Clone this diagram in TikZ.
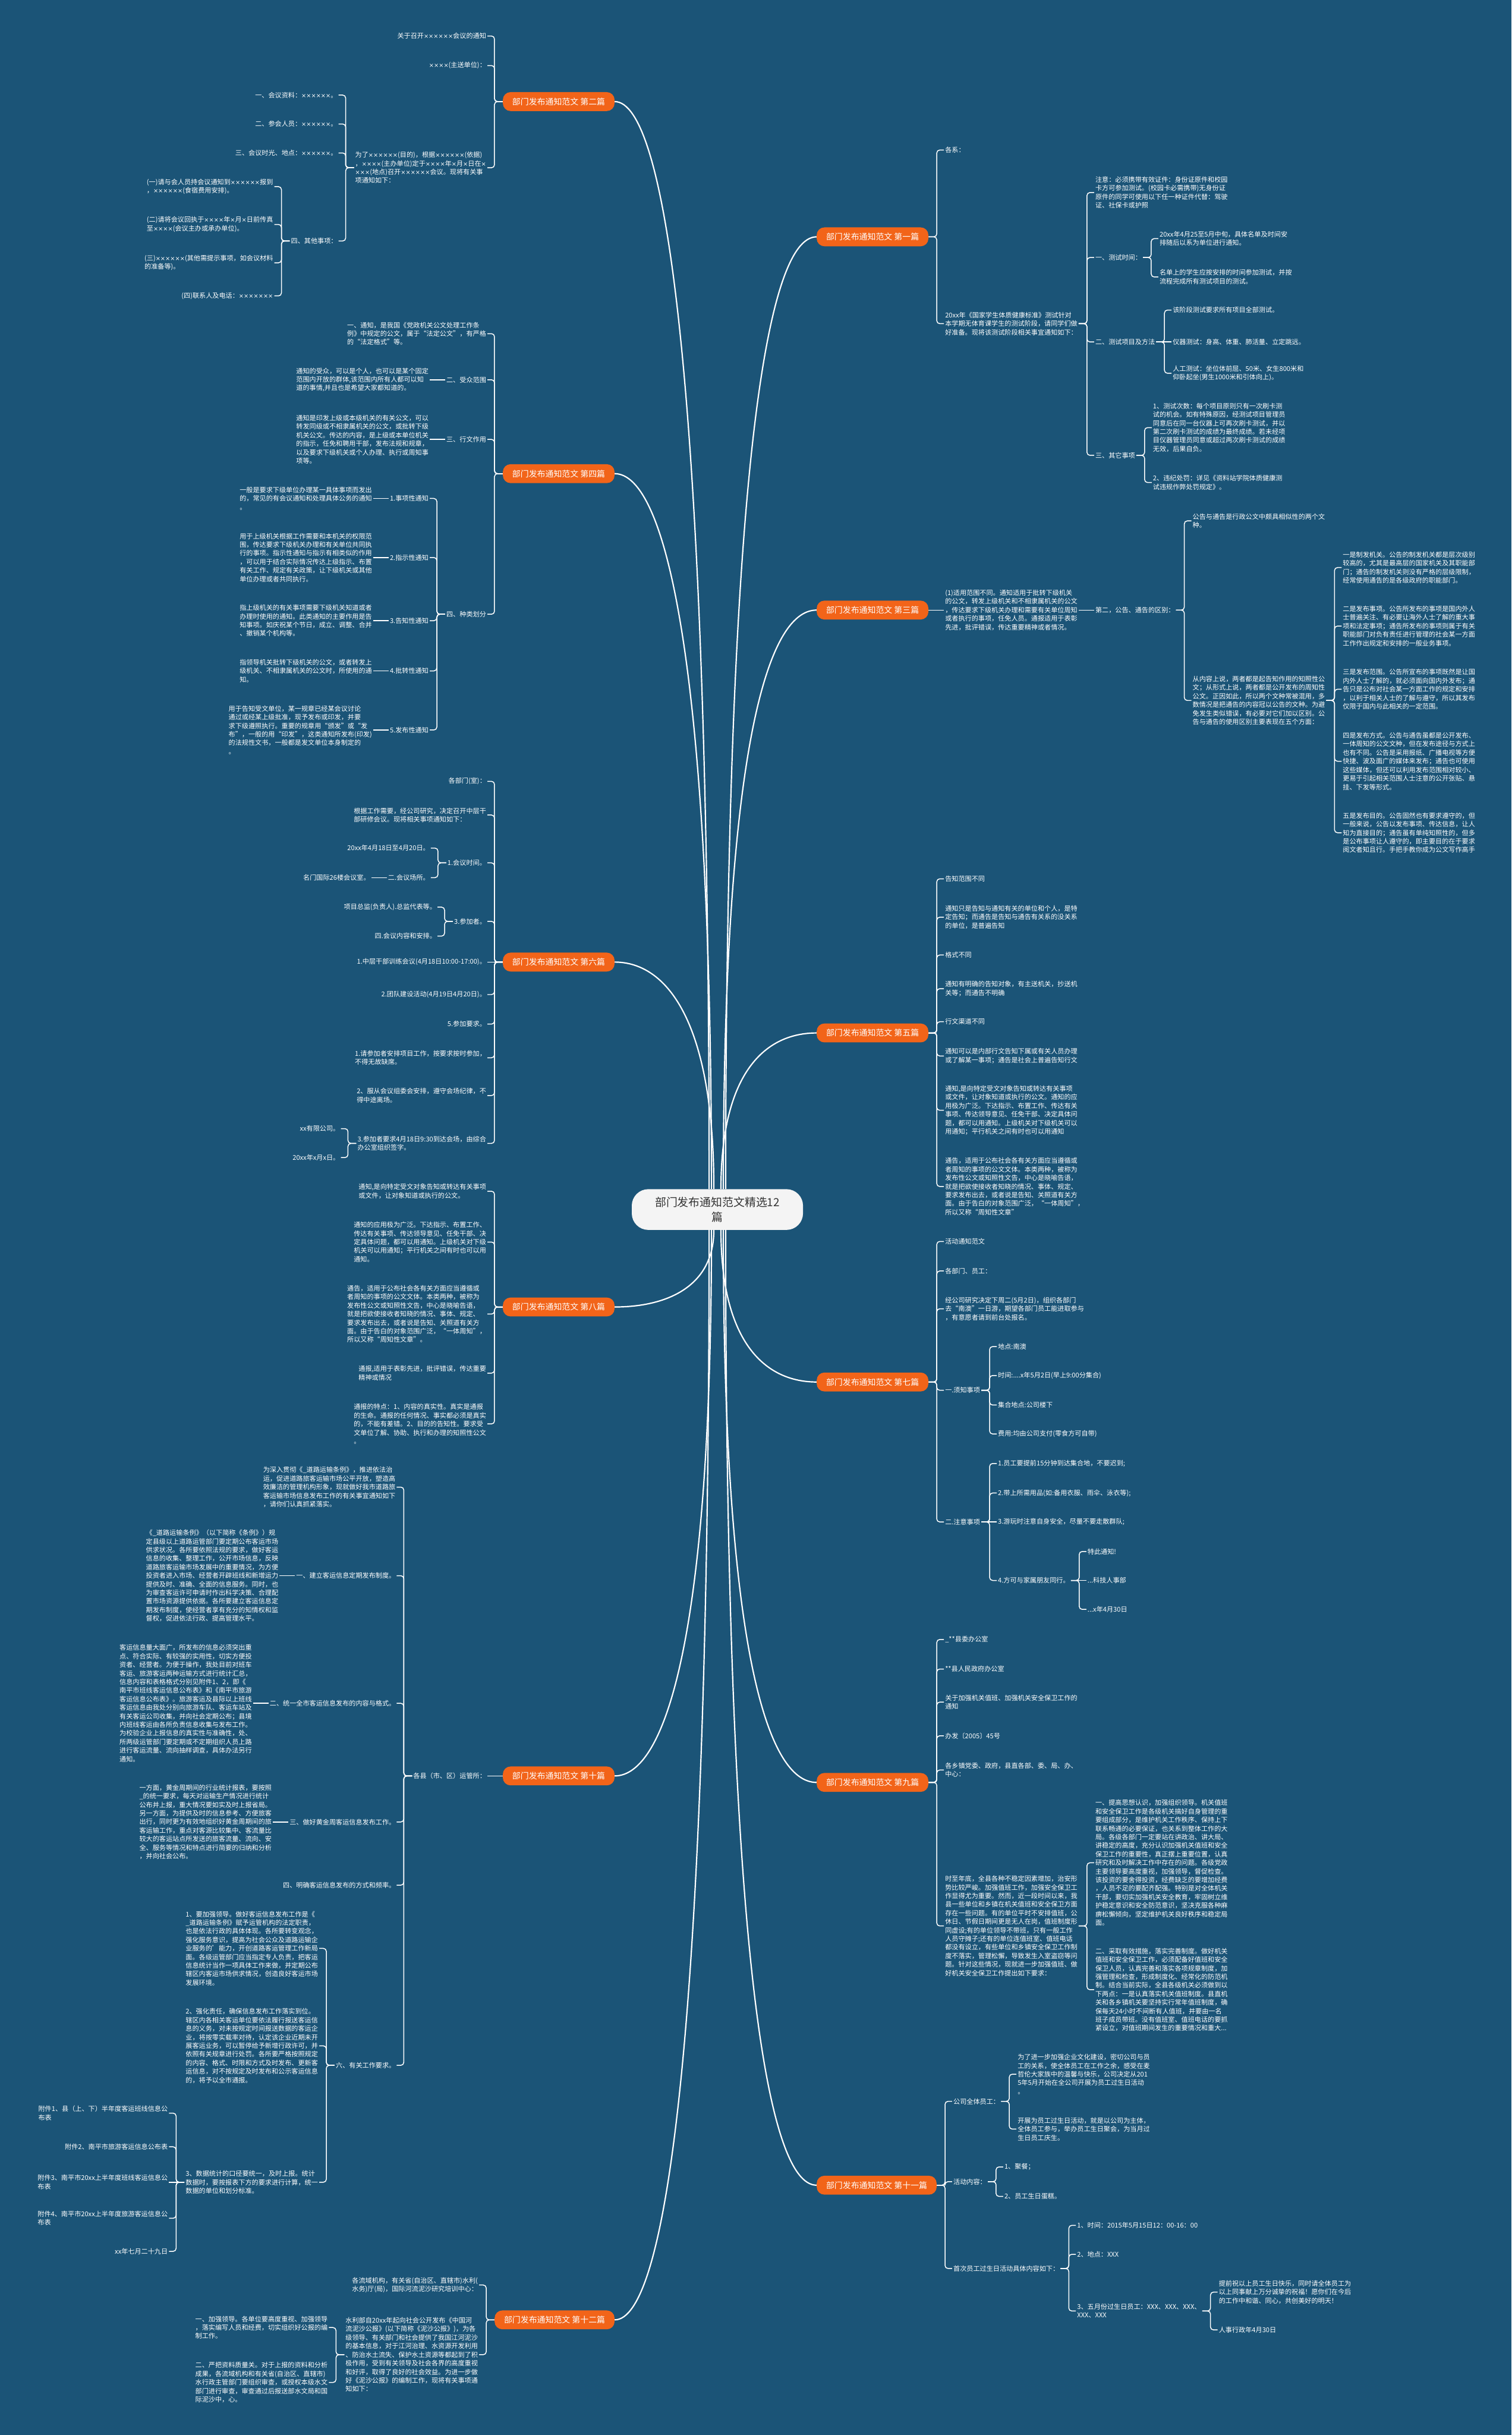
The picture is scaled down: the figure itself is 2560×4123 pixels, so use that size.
\documentclass[tikz,border=0pt]{standalone}
\usepackage{fontspec}
\usepackage{newunicodechar}
\setmainfont{Noto Sans CJK SC}
\newfontfamily\timesfont[Scale=0.88]{DejaVu Sans}
\newunicodechar{×}{{\timesfont\symbol{"00D7}}}
\definecolor{bgblue}{RGB}{27,84,119}
\definecolor{orng}{RGB}{242,100,25}
\definecolor{hubgray}{RGB}{244,244,244}
\begin{document}
\begin{tikzpicture}[x=1pt,y=-1pt,
  txt/.style={text=white,inner sep=2pt,align=left,font=\fontsize{11.2}{14.5}\selectfont},
  lk/.style={white,line width=1.5pt,rounded corners=5pt},
  br/.style={white,line width=2.2pt},
  topic/.style={fill=orng,text=white,rounded corners=13pt,minimum height=32pt,inner xsep=16pt,font=\fontsize{14}{16}\selectfont},
  hub/.style={fill=hubgray,text=black!80,rounded corners=28pt,minimum width=290pt,minimum height=69pt,align=center,font=\fontsize{19}{24.5}\selectfont}]
\def\kidL#1#2#3#4{\path (#1.west) ++(-26,0) coordinate (t);
  \node[txt,anchor=east] (#2) at (t |- 0,#3) {#4};
  \draw[lk] (#1.west) -- ++(-14,0) |- (#2.east);}
\def\kidR#1#2#3#4{\path (#1.east) ++(26,0) coordinate (t);
  \node[txt,anchor=west] (#2) at (t |- 0,#3) {#4};
  \draw[lk] (#1.east) -- ++(14,0) |- (#2.west);}
\def\solL#1#2#3{\node[txt,anchor=east] (#2) at ([xshift=-26]#1.west) {#3};
  \draw[lk] (#1.west) -- (#2.east);}
\def\solR#1#2#3{\node[txt,anchor=west] (#2) at ([xshift=26]#1.east) {#3};
  \draw[lk] (#1.east) -- (#2.west);}
\useasboundingbox (0,0) rectangle (2560,4123);
\fill[bgblue] (0,0) rectangle (2560,4123);

\node[hub] (cen) at (1215,2048) {部门发布通知范文精选12\\篇};
\node[topic,anchor=east] (b2) at (1041,172) {部门发布通知范文 第二篇};
\node[topic,anchor=east] (b4) at (1041,802) {部门发布通知范文 第四篇};
\node[topic,anchor=east] (b6) at (1041,1629) {部门发布通知范文 第六篇};
\node[topic,anchor=east] (b8) at (1041,2213) {部门发布通知范文 第八篇};
\node[topic,anchor=east] (b10) at (1041,3007) {部门发布通知范文 第十篇};
\node[topic,anchor=east] (b12) at (1041,3928) {部门发布通知范文 第十二篇};
\node[topic,anchor=west] (b1) at (1383,401) {部门发布通知范文 第一篇};
\node[topic,anchor=west] (b3) at (1383,1033) {部门发布通知范文 第三篇};
\node[topic,anchor=west] (b5) at (1383,1749) {部门发布通知范文 第五篇};
\node[topic,anchor=west] (b7) at (1383,2340) {部门发布通知范文 第七篇};
\node[topic,anchor=west] (b9) at (1383,3018) {部门发布通知范文 第九篇};
\node[topic,anchor=west] (b11) at (1383,3700) {部门发布通知范文 第十一篇};

\draw[br] (b2.east) .. controls +(85,0) and +(0,-1380) .. ([xshift=-14]cen.north);
\draw[br] (b4.east) .. controls +(85,0) and +(0,-900) .. ([xshift=-10]cen.north);
\draw[br] (b6.east) .. controls +(85,0) and +(0,-290) .. ([xshift=-6]cen.north);
\draw[br] (b1.west) .. controls +(-85,0) and +(0,-1210) .. ([xshift=14]cen.north);
\draw[br] (b3.west) .. controls +(-85,0) and +(0,-735) .. ([xshift=10]cen.north);
\draw[br] (b5.west) .. controls +(-85,0) and +(0,-200) .. ([xshift=6]cen.north);
\draw[br] (b8.east) .. controls +(85,0) and +(0,98) .. ([xshift=-6]cen.south);
\draw[br] (b10.east) .. controls +(85,0) and +(0,693) .. ([xshift=-10]cen.south);
\draw[br] (b12.east) .. controls +(85,0) and +(0,1384) .. ([xshift=-14]cen.south);
\draw[br] (b7.west) .. controls +(-85,0) and +(0,193) .. ([xshift=6]cen.south);
\draw[br] (b9.west) .. controls +(-85,0) and +(0,701) .. ([xshift=10]cen.south);
\draw[br] (b11.west) .. controls +(-85,0) and +(0,1213) .. ([xshift=14]cen.south);

\kidL{b2}{b2a}{61}{关于召开××××××会议的通知}
\kidL{b2}{b2b}{111}{××××(主送单位)：}
\kidL{b2}{b2c}{284}{为了××××××(目的)，根据××××××(依据)\\，××××(主办单位)定于××××年×月×日在×\\×××(地点)召开××××××会议。现将有关事\\项通知如下：}
\kidL{b2c}{b2c1}{161}{一、会议资料：××××××。}
\kidL{b2c}{b2c2}{210}{二、参会人员：××××××。}
\kidL{b2c}{b2c3}{259}{三、会议时光、地点：××××××。}
\kidL{b2c}{b2c4}{408}{四、其他事项：}
\kidL{b2c4}{b2d1}{316}{(一)请与会人员持会议通知到××××××报到\\，××××××(食宿费用安排)。}
\kidL{b2c4}{b2d2}{380}{(二)请将会议回执于××××年×月×日前传真\\至××××(会议主办或承办单位)。}
\kidL{b2c4}{b2d3}{445}{(三)××××××(其他需提示事项，如会议材料\\的准备等)。}
\kidL{b2c4}{b2d4}{501}{(四)联系人及电话：×××××××}

\kidL{b4}{b4a}{565}{一、通知，是我国《党政机关公文处理工作条\\例》中规定的公文，属于“法定公文”，有严格\\的“法定格式”等。}
\kidL{b4}{b4b}{643}{二、受众范围}
\solL{b4b}{b4b1}{通知的受众，可以是个人，也可以是某个固定\\范围内开放的群体,该范围内所有人都可以知\\道的事情,并且也是希望大家都知道的。}
\kidL{b4}{b4c}{744}{三、行文作用}
\solL{b4c}{b4c1}{通知是印发上级或本级机关的有关公文，可以\\转发同级或不相隶属机关的公文，或批转下级\\机关公文。传达的内容，是上级或本单位机关\\的指示，任免和聘用干部，发布法规和规章，\\以及要求下级机关或个人办理、执行或周知事\\项等。}
\kidL{b4}{b4d}{1040}{四、种类划分}
\kidL{b4d}{b4d1}{844}{1.事项性通知}
\solL{b4d1}{b4e1}{一般是要求下级单位办理某一具体事项而发出\\的，常见的有会议通知和处理具体公务的通知\\。}
\kidL{b4d}{b4d2}{944}{2.指示性通知}
\solL{b4d2}{b4e2}{用于上级机关根据工作需要和本机关的权限范\\围，传达要求下级机关办理和有关单位共同执\\行的事项。指示性通知与指示有相类似的作用\\，可以用于结合实际情况传达上级指示、布置\\有关工作、规定有关政策，让下级机关或其他\\单位办理或者共同执行。}
\kidL{b4d}{b4d3}{1051}{3.告知性通知}
\solL{b4d3}{b4e3}{指上级机关的有关事项需要下级机关知道或者\\办理时使用的通知。此类通知的主要作用是告\\知事项。如庆祝某个节日，成立、调整、合并\\、撤销某个机构等。}
\kidL{b4d}{b4d4}{1136}{4.批转性通知}
\solL{b4d4}{b4e4}{指领导机关批转下级机关的公文，或者转发上\\级机关、不相隶属机关的公文时，所使用的通\\知。}
\kidL{b4d}{b4d5}{1236}{5.发布性通知}
\solL{b4d5}{b4e5}{用于告知受文单位，某一规章已经某会议讨论\\通过或经某上级批准，现予发布或印发，并要\\求下级遵照执行。重要的规章用“颁发”或“发\\布”，一般的用“印发”，这类通知所发布(印发)\\的法规性文书，一般都是发文单位本身制定的\\。}

\kidL{b6}{b6a}{1323}{各部门(室)：}
\kidL{b6}{b6b}{1380}{根据工作需要，经公司研究，决定召开中层干\\部研修会议。现将相关事项通知如下：}
\kidL{b6}{b6c}{1461}{1.会议时间。}
\kidL{b6c}{b6c1}{1436}{20xx年4月18日至4月20日。}
\kidL{b6c}{b6c2}{1486}{二.会议场所。}
\solL{b6c2}{b6c3}{名门国际26楼会议室。}
\kidL{b6}{b6d}{1560}{3.参加者。}
\kidL{b6d}{b6d1}{1536}{项目总监(负责人).总监代表等。}
\kidL{b6d}{b6d2}{1585}{四.会议内容和安排。}
\solL{b6}{b6e}{1.中层干部训练会议(4月18日10:00-17:00)。}
\kidL{b6}{b6f}{1684}{2.团队建设活动(4月19日4月20日)。}
\kidL{b6}{b6g}{1734}{5.参加要求。}
\kidL{b6}{b6h}{1791}{1.请参加者安排项目工作，按要求按时参加，\\不得无故缺席。}
\kidL{b6}{b6i}{1855}{2、服从会议组委会安排，遵守会场纪律，不\\得中途离场。}
\kidL{b6}{b6j}{1936}{3.参加者要求4月18日9:30到达会场，由综合\\办公室组织签字。}
\kidL{b6j}{b6j1}{1911}{xx有限公司。}
\kidL{b6j}{b6j2}{1960}{20xx年x月x日。}

\kidL{b8}{b8a}{2017}{通知,是向特定受文对象告知或转达有关事项\\或文件，让对象知道或执行的公文。}
\kidL{b8}{b8b}{2103}{通知的应用极为广泛。下达指示、布置工作、\\传达有关事项、传达领导意见、任免干部、决\\定具体问题，都可以用通知。上级机关对下级\\机关可以用通知；平行机关之间有时也可以用\\通知。}
\kidL{b8}{b8c}{2225}{通告，适用于公布社会各有关方面应当遵循或\\者周知的事项的公文文体。本类两种，被称为\\发布性公文或知照性文告，中心是晓喻告语，\\就是把欲使接收者知晓的情况、事体、规定、\\要求发布出去，或者说是告知、关照道有关方\\面。由于告白的对象范围广泛，“一体周知”，\\所以又称“周知性文章”。}
\kidL{b8}{b8d}{2325}{通报,适用于表彰先进，批评错误，传达重要\\精神或情况}
\kidL{b8}{b8e}{2411}{通报的特点：1、内容的真实性。真实是通报\\的生命。通报的任何情况、事实都必须是真实\\的，不能有差错。2、目的的告知性。要求受\\文单位了解、协助、执行和办理的知照性公文\\。}

\solL{b10}{b10a}{各县（市、区）运管所：}
\kidL{b10a}{b10b}{2518}{为深入贯彻《\_道路运输条例》，推进依法治\\运，促进道路旅客运输市场公平开放，塑造高\\效廉洁的管理机构形象，现就做好我市道路旅\\客运输市场信息发布工作的有关事宜通知如下\\，请你们认真抓紧落实。}
\kidL{b10a}{b10c}{2668}{一、建立客运信息定期发布制度。}
\solL{b10c}{b10c1}{《\_道路运输条例》（以下简称《条例》）规\\定县级以上道路运管部门要定期公布客运市场\\供求状况。各所要依照法规的要求，做好客运\\信息的收集、整理工作，公开市场信息，反映\\道路旅客运输市场发展中的重要情况，为方便\\投资者进入市场、经营者开辟班线和新增运力\\提供及时、准确、全面的信息服务。同时，也\\为审查客运许可申请时作出科学决策、合理配\\置市场资源提供依据。各所要建立客运信息定\\期发布制度，使经营者享有充分的知情权和监\\督权，促进依法行政、提高管理水平。}
\kidL{b10a}{b10d}{2884}{二、统一全市客运信息发布的内容与格式。}
\solL{b10d}{b10d1}{客运信息量大面广，所发布的信息必须突出重\\点、符合实际、有较强的实用性，切实方便投\\资者、经营者。为便于操作，我处目前对班车\\客运、旅游客运两种运输方式进行统计汇总，\\信息内容和表格格式分别见附件1、2，即《\\南平市班线客运信息公布表》和《南平市旅游\\客运信息公布表》。旅游客运及县际以上班线\\客运信息由我处分别向旅游车队、客运车站及\\有关客运公司收集，并向社会定期公布；县境\\内班线客运由各所负责信息收集与发布工作。\\为校验企业上报信息的真实性与准确性，处、\\所两级运管部门要定期或不定期组织人员上路\\进行客运流量、流向抽样调查，具体办法另行\\通知。}
\kidL{b10a}{b10e}{3085}{三、做好黄金周客运信息发布工作。}
\solL{b10e}{b10e1}{一方面，黄金周期间的行业统计报表，要按照\\\_的统一要求，每天对运输生产情况进行统计\\公布并上报，重大情况要如实及时上报省局。\\另一方面，为提供及时的信息参考、方便旅客\\出行，同时更为有效地组织好黄金周期间的旅\\客运输工作，重点对客源比较集中、客流量比\\较大的客运站点所发送的旅客流量、流向、安\\全、服务等情况和特点进行简要的归纳和分析\\，并向社会公布。}
\kidL{b10a}{b10f}{3192}{四、明确客运信息发布的方式和频率。}
\kidL{b10a}{b10g}{3497}{六、有关工作要求。}
\kidL{b10g}{b10g1}{3299}{1、要加强领导。做好客运信息发布工作是《\\\_道路运输条例》赋予运管机构的法定职责，\\也是依法行政的具体体现。各所要转变观念，\\强化服务意识，提高为社会公众及道路运输企\\业服务的'能力，开创道路客运管理工作新局\\面。各级运管部门应当指定专人负责，把客运\\信息统计当作一项具体工作来做，并定期公布\\辖区内客运市场供求情况，创造良好客运市场\\发展环境。}
\kidL{b10g}{b10g2}{3464}{2、强化责任，确保信息发布工作落实到位。\\辖区内各相关客运单位要依法履行报送客运信\\息的义务，对未按规定时间报送数据的客运企\\业，将按零实载率对待，认定该企业近期未开\\展客运业务，可以暂停给予新增行政许可，并\\依照有关规章进行处罚。各所要严格按照规定\\的内容、格式、时限和方式及时发布、更新客\\运信息，对不按规定及时发布和公示客运信息\\的，将予以全市通报。}
\kidL{b10g}{b10g3}{3695}{3、数据统计的口径要统一，及时上报。统计\\数据时，要按报表下方的要求进行计算，统一\\数据的单位和划分标准。}
\kidL{b10g3}{b10h1}{3578}{附件1、县（上、下）半年度客运班线信息公\\布表}
\kidL{b10g3}{b10h2}{3635}{附件2、南平市旅游客运信息公布表}
\solL{b10g3}{b10h3}{附件3、南平市20xx上半年度班线客运信息公\\布表}
\kidL{b10g3}{b10h4}{3756}{附件4、南平市20xx上半年度旅游客运信息公\\布表}
\kidL{b10g3}{b10h5}{3812}{xx年七月二十九日}

\kidL{b12}{b12a}{3869}{各流域机构，有关省(自治区、直辖市)水利(\\水务)厅(局)，国际河流泥沙研究培训中心：}
\kidL{b12}{b12b}{3987}{水利部自20xx年起向社会公开发布《中国河\\流泥沙公报》(以下简称《泥沙公报》)，为各\\级领导、有关部门和社会提供了我国江河泥沙\\的基本信息，对于江河治理、水资源开发利用\\、防治水土流失、保护水土资源等都起到了积\\极作用，受到有关领导及社会各界的高度重视\\和好评，取得了良好的社会效益。为进一步做\\好《泥沙公报》的编制工作，现将有关事项通\\知如下：}
\kidL{b12b}{b12c}{3941}{一、加强领导。各单位要高度重视、加强领导\\，落实编写人员和经费，切实组织好公报的编\\制工作。}
\kidL{b12b}{b12d}{4034}{二、严把资料质量关。对于上报的资料和分析\\成果，各流域机构和有关省(自治区、直辖市)\\水行政主管部门要组织审查，或授权本级水文\\部门进行审查，审查通过后报送部水文局和国\\际泥沙中，心。}

\kidR{b1}{b1a}{254}{各系：}
\kidR{b1}{b1b}{548}{20xx年《国家学生体质健康标准》测试针对\\本学期无体育课学生的测试阶段，请同学们做\\好准备。现将该测试阶段相关事宜通知如下：}
\kidR{b1b}{b1c}{326}{注意：必须携带有效证件：身份证原件和校园\\卡方可参加测试。(校园卡必需携带)无身份证\\原件的同学可使用以下任一种证件代替：驾驶\\证、社保卡或护照}
\kidR{b1b}{b1d}{436}{一、测试时间：}
\kidR{b1d}{b1d1}{404}{20xx年4月25至5月中旬，具体名单及时间安\\排随后以系为单位进行通知。}
\kidR{b1d}{b1d2}{469}{名单上的学生应按安排的时间参加测试，并按\\流程完成所有测试项目的测试。}
\kidR{b1b}{b1e}{579}{二、测试项目及方法}
\kidR{b1e}{b1e1}{525}{该阶段测试要求所有项目全部测试。}
\solR{b1e}{b1e2}{仪器测试：身高、体重、肺活量、立定跳远。}
\kidR{b1e}{b1e3}{632}{人工测试：坐位体前屈、50米、女生800米和\\仰卧起坐(男生1000米和引体向上)。}
\kidR{b1b}{b1f}{771}{三、其它事项}
\kidR{b1f}{b1f1}{724}{1、测试次数：每个项目原则只有一次刷卡测\\试的机会。如有特殊原因，经测试项目管理员\\同意后在同一台仪器上可再次刷卡测试，并以\\第二次刷卡测试的成绩为最终成绩。若未经项\\目仪器管理员同意或超过两次刷卡测试的成绩\\无效，后果自负。}
\kidR{b1f}{b1f2}{817}{2、违纪处罚：详见《资料站学院体质健康测\\试违规作弊处罚规定》。}

\solR{b3}{b3a}{(1)适用范围不同。通知适用于批转下级机关\\的公文，转发上级机关和不相隶属机关的公文\\，传达要求下级机关办理和需要有关单位周知\\或者执行的事项，任免人员。通报适用于表彰\\先进，批评错误，传达重要精神或者情况。}
\solR{b3a}{b3b}{第二，公告、通告的区别：}
\kidR{b3b}{b3c}{882}{公告与通告是行政公文中颇具相似性的两个文\\种。}
\kidR{b3b}{b3d}{1186}{从内容上说，两者都是起告知作用的知照性公\\文；从形式上说，两者都是公开发布的周知性\\公文。正因如此，所以两个文种常被混用，多\\数情况是把通告的内容冠以公告的文种。为避\\免发生类似错误，有必要对它们加以区别。公\\告与通告的使用区别主要表现在五个方面：}
\kidR{b3d}{b3d1}{961}{一是制发机关。公告的制发机关都是层次级别\\较高的，尤其是最高层的国家机关及其职能部\\门；通告的制发机关则没有严格的层级限制，\\经常使用通告的是各级政府的职能部门。}
\kidR{b3d}{b3d2}{1060}{二是发布事项。公告所发布的事项是国内外人\\士普遍关注、有必要让海外人士了解的重大事\\项和法定事项；通告所发布的事项则属于有关\\职能部门对负有责任进行管理的社会某一方面\\工作作出规定和安排的一般业务事项。}
\kidR{b3d}{b3d3}{1167}{三是发布范围。公告所宣布的事项既然是让国\\内外人士了解的，就必须面向国内外发布；通\\告只是公布对社会某一方面工作的规定和安排\\，以利于相关人士的了解与遵守，所以其发布\\仅限于国内与此相关的一定范围。}
\kidR{b3d}{b3d4}{1289}{四是发布方式。公告与通告虽都是公开发布、\\一体周知的公文文种，但在发布途径与方式上\\也有不同。公告是采用报纸、广播电视等方便\\快捷、波及面广的媒体来发布；通告也可使用\\这些媒体，但还可以利用发布范围相对较小、\\更易于引起相关范围人士注意的公开张贴、悬\\挂、下发等形式。}
\kidR{b3d}{b3d5}{1410}{五是发布目的。公告固然也有要求遵守的，但\\一般来说，公告以发布事项、传达信息，让人\\知为直接目的；通告虽有单纯知照性的，但多\\是公布事项让人遵守的，即主要目的在于要求\\阅文者知且行。手把手教你成为公文写作高手}

\kidR{b5}{b5a}{1488}{告知范围不同}
\kidR{b5}{b5b}{1553}{通知只是告知与通知有关的单位和个人，是特\\定告知；而通告是告知与通告有关系的没关系\\的单位，是普遍告知}
\kidR{b5}{b5c}{1617}{格式不同}
\kidR{b5}{b5d}{1674}{通知有明确的告知对象，有主送机关，抄送机\\关等；而通告不明确}
\kidR{b5}{b5e}{1730}{行文渠道不同}
\kidR{b5}{b5f}{1788}{通知可以是内部行文告知下属或有关人员办理\\或了解某一事项；通告是社会上普遍告知行文}
\kidR{b5}{b5g}{1880}{通知,是向特定受文对象告知或转达有关事项\\或文件，让对象知道或执行的公文。通知的应\\用极为广泛。下达指示、布置工作、传达有关\\事项、传达领导意见、任免干部、决定具体问\\题，都可以用通知。上级机关对下级机关可以\\用通知；平行机关之间有时也可以用通知}
\kidR{b5}{b5h}{2009}{通告，适用于公布社会各有关方面应当遵循或\\者周知的事项的公文文体。本类两种，被称为\\发布性公文或知照性文告，中心是晓喻告语，\\就是把欲使接收者知晓的情况、事体、规定、\\要求发布出去，或者说是告知、关照道有关方\\面。由于告白的对象范围广泛，“一体周知”，\\所以又称“周知性文章”}

\kidR{b7}{b7a}{2102}{活动通知范文}
\kidR{b7}{b7b}{2152}{各部门、员工：}
\kidR{b7}{b7c}{2216}{经公司研究决定下周二(5月2日)，组织各部门\\去“南澳”一日游，期望各部门员工能进取参与\\，有意愿者请到前台处报名。}
\kidR{b7}{b7d}{2354}{一.须知事项}
\kidR{b7d}{b7d1}{2280}{地点:南澳}
\kidR{b7d}{b7d2}{2329}{时间:....x年5月2日(早上9:00分集合)}
\kidR{b7d}{b7d3}{2379}{集合地点:公司楼下}
\kidR{b7d}{b7d4}{2428}{费用:均由公司支付(零食方可自带)}
\kidR{b7}{b7e}{2577}{二.注意事项}
\kidR{b7e}{b7e1}{2478}{1.员工要提前15分钟到达集合地，不要迟到;}
\kidR{b7e}{b7e2}{2528}{2.带上所需用品(如:备用衣服、雨伞、泳衣等);}
\solR{b7e}{b7e3}{3.游玩时注意自身安全，尽量不要走散群队;}
\kidR{b7e}{b7e4}{2676}{4.方可与家属朋友同行。}
\kidR{b7e4}{b7f1}{2627}{特此通知!}
\solR{b7e4}{b7f2}{...科技人事部}
\kidR{b7e4}{b7f3}{2725}{...x年4月30日}

\kidR{b9}{b9a}{2776}{\_**县委办公室}
\kidR{b9}{b9b}{2826}{**县人民政府办公室}
\kidR{b9}{b9c}{2882}{关于加强机关值班、加强机关安全保卫工作的\\通知}
\kidR{b9}{b9d}{2939}{办发〔2005〕45号}
\kidR{b9}{b9e}{2997}{各乡镇党委、政府，县直各部、委、局、办、\\中心：}
\kidR{b9}{b9f}{3261}{时至年底，全县各种不稳定因素增加，治安形\\势比较严峻。加强值班工作，加强安全保卫工\\作显得尤为重要。然而，近一段时间以来，我\\县一些单位和乡镇在机关值班和安全保卫方面\\存在一些问题。有的单位平时不安排值班，公\\休日、节假日期间更是无人在岗，值班制度形\\同虚设;有的单位领导不带班，只有一般工作\\人员守摊子;还有的单位连值班室、值班电话\\都没有设立，有些单位和乡镇安全保卫工作制\\度不落实，管理松懈，导致发生入室盗窃等问\\题。针对这些情况，现就进一步加强值班、做\\好机关安全保卫工作提出如下要求：}
\kidR{b9f}{b9f1}{3154}{一、提高思想认识，加强组织领导。机关值班\\和安全保卫工作是各级机关搞好自身管理的重\\要组成部分，是维护机关工作秩序、保持上下\\联系畅通的必要保证，也关系到整体工作的大\\局。各级各部门一定要站在讲政治、讲大局、\\讲稳定的高度，充分认识加强机关值班和安全\\保卫工作的重要性，真正摆上重要位置，认真\\研究和及时解决工作中存在的问题。各级党政\\主要领导要高度重视，加强领导，督促检查。\\该投资的要舍得投资，经费缺乏的要增加经费\\，人员不足的要配齐配强。特别是对全体机关\\干部，要切实加强机关安全教育，牢固树立维\\护稳定意识和安全防范意识，坚决克服各种麻\\痹松懈倾向，坚定维护机关良好秩序和稳定局\\面。}
\kidR{b9f}{b9f2}{3369}{二、采取有效措施，落实完善制度。做好机关\\值班和安全保卫工作，必须配备好值班和安全\\保卫人员，认真完善和落实各项规章制度，加\\强管理和检查，形成制度化、经常化的防范机\\制。结合当前实际，全县各级机关必须做到以\\下两点：一是认真落实机关值班制度。县直机\\关和各乡镇机关要坚持实行常年值班制度，确\\保每天24小时不间断有人值班，并要由一名\\班子成员带班。没有值班室、值班电话的要抓\\紧设立，对值班期间发生的重要情况和重大...}

\kidR{b11}{b11a}{3558}{公司全体员工：}
\kidR{b11a}{b11a1}{3512}{为了进一步加强企业文化建设，密切公司与员\\工的关系，使全体员工在工作之余，感受在麦\\哲伦大家族中的温馨与快乐，公司决定从201\\5年5月开始在全公司开展为员工过生日活动\\。}
\kidR{b11a}{b11a2}{3605}{开展为员工过生日活动，就是以公司为主体，\\全体员工参与，举办员工生日聚会，为当月过\\生日员工庆生。}
\kidR{b11}{b11b}{3694}{活动内容：}
\kidR{b11b}{b11b1}{3669}{1、聚餐；}
\kidR{b11b}{b11b2}{3719}{2、员工生日蛋糕。}
\kidR{b11}{b11c}{3841}{首次员工过生日活动具体内容如下：}
\kidR{b11c}{b11c1}{3768}{1、时间：2015年5月15日12：00-16：00}
\kidR{b11c}{b11c2}{3817}{2、地点：XXX}
\kidR{b11c}{b11c3}{3913}{3、五月份过生日员工：XXX、XXX、XXX、\\XXX、XXX}
\kidR{b11c3}{b11d1}{3881}{提前祝以上员工生日快乐，同时请全体员工为\\以上同事献上万分诚挚的祝福！愿你们在今后\\的工作中和谐、同心，共创美好的明天！}
\kidR{b11c3}{b11d2}{3945}{人事行政年4月30日}
\end{tikzpicture}
\end{document}
